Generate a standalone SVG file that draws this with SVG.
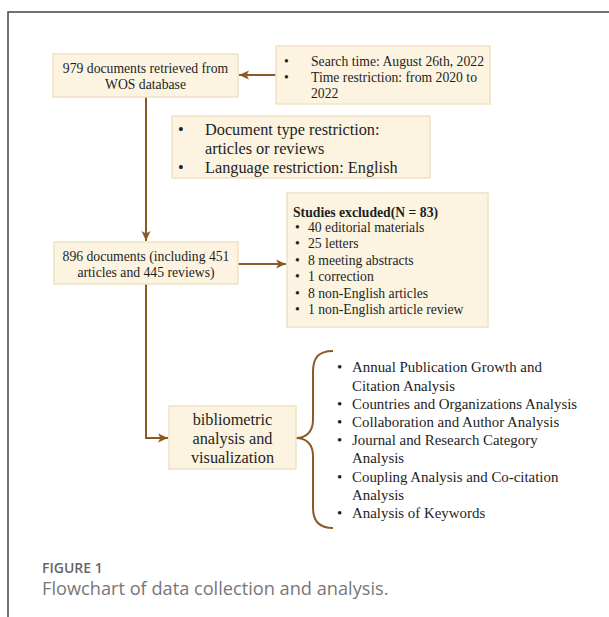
<svg xmlns="http://www.w3.org/2000/svg" width="609" height="617" viewBox="0 0 609 617">
<style>
.box{fill:#fcf4e1;stroke:#efe2c4;stroke-width:1.5}
.t{font-family:"Liberation Serif","Times New Roman",serif;fill:#1e1e1e;font-size:13.7px}
.m{text-anchor:middle}
.l{font-size:16.3px}
.r{font-size:14.9px}
.b{font-weight:bold}
.c{fill:none;stroke:#8b5a25;stroke-width:2}
.cap{font-family:"Open Sans","Liberation Sans",sans-serif}
</style>
<defs>
<marker id="ah" markerUnits="userSpaceOnUse" markerWidth="12" markerHeight="10" refX="10" refY="5" orient="auto">
<path d="M0,0.5 L10,5 L0,9.5 L2.5,5 Z" fill="#8b5a25"/>
</marker>
</defs>
<rect width="609" height="617" fill="#fff"/>
<path d="M8,617 V12 H609" fill="none" stroke="#444" stroke-width="1.5"/>

<g id="connectors">
<line class="c" x1="277" y1="75" x2="239" y2="75" marker-end="url(#ah)"/>
<line class="c" x1="146" y1="97" x2="146" y2="241" marker-end="url(#ah)"/>
<line class="c" x1="238" y1="264" x2="286" y2="264" marker-end="url(#ah)"/>
<path class="c" d="M146,284 V438 H168" marker-end="url(#ah)"/>
<path class="c" d="M333,351 C318,351 313,358 313,372 L313,420 C313,432 306,438 296,438 C306,438 313,444 313,456 L313,508 C313,520 318,528 333,528"/>
</g>

<g id="n1">
<rect class="box" x="53" y="54" width="185" height="43"/>
<text class="t m" x="145.5" y="73">979 documents retrieved from</text>
<text class="t m" x="145.5" y="89">WOS database</text>
</g>

<g id="n2">
<rect class="box" x="276" y="46" width="214" height="58"/>
<text class="t" x="284" y="66">•</text>
<text class="t" x="284" y="82">•</text>
<text class="t" x="311" y="66">Search time: August 26th, 2022</text>
<text class="t" x="311" y="82">Time restriction: from 2020 to</text>
<text class="t" x="311" y="98">2022</text>
</g>

<g id="n3">
<rect class="box" x="172" y="116" width="258" height="62"/>
<text class="t l" x="178" y="135">•</text>
<text class="t l" x="178" y="173">•</text>
<text class="t l" x="205" y="135">Document type restriction:</text>
<text class="t l" x="205" y="154">articles or reviews</text>
<text class="t l" x="205" y="173">Language restriction: English</text>
</g>

<g id="n4">
<rect class="box" x="54" y="242" width="184" height="42"/>
<text class="t m" x="146" y="261">896 documents (including 451</text>
<text class="t m" x="146" y="277">articles and 445 reviews)</text>
</g>

<g id="n5">
<rect class="box" x="287" y="193" width="201" height="134"/>
<text class="t b" x="293" y="217">Studies excluded(N = 83)</text>
<text class="t" x="295" y="232">•</text>
<text class="t" x="295" y="248">•</text>
<text class="t" x="295" y="265">•</text>
<text class="t" x="295" y="281">•</text>
<text class="t" x="295" y="298">•</text>
<text class="t" x="295" y="314">•</text>
<text class="t" x="308" y="232">40 editorial materials</text>
<text class="t" x="308" y="248">25 letters</text>
<text class="t" x="308" y="265">8 meeting abstracts</text>
<text class="t" x="308" y="281">1 correction</text>
<text class="t" x="308" y="298">8 non-English articles</text>
<text class="t" x="308" y="314">1 non-English article review</text>
</g>

<g id="n6">
<rect class="box" x="169" y="406" width="127" height="63"/>
<text class="t l m" x="232.5" y="424.5">bibliometric</text>
<text class="t l m" x="232.5" y="443.5">analysis and</text>
<text class="t l m" x="232.5" y="463">visualization</text>
</g>

<g id="n7">
<text class="t r" x="337" y="372">•</text>
<text class="t r" x="337" y="409">•</text>
<text class="t r" x="337" y="427">•</text>
<text class="t r" x="337" y="445">•</text>
<text class="t r" x="337" y="482">•</text>
<text class="t r" x="337" y="518">•</text>
<text class="t r" x="352" y="372">Annual Publication Growth and</text>
<text class="t r" x="352" y="391">Citation Analysis</text>
<text class="t r" x="352" y="409">Countries and Organizations Analysis</text>
<text class="t r" x="352" y="427">Collaboration and Author Analysis</text>
<text class="t r" x="352" y="445">Journal and Research Category</text>
<text class="t r" x="352" y="463">Analysis</text>
<text class="t r" x="352" y="482">Coupling Analysis and Co-citation</text>
<text class="t r" x="352" y="500">Analysis</text>
<text class="t r" x="352" y="518">Analysis of Keywords</text>
</g>

<g id="caption">
<text class="cap" x="42" y="573" font-size="14px" font-weight="600" fill="#666">FIGURE 1</text>
<text class="cap" x="42" y="595" font-size="18.2px" fill="#777">Flowchart of data collection and analysis.</text>
</g>
</svg>
